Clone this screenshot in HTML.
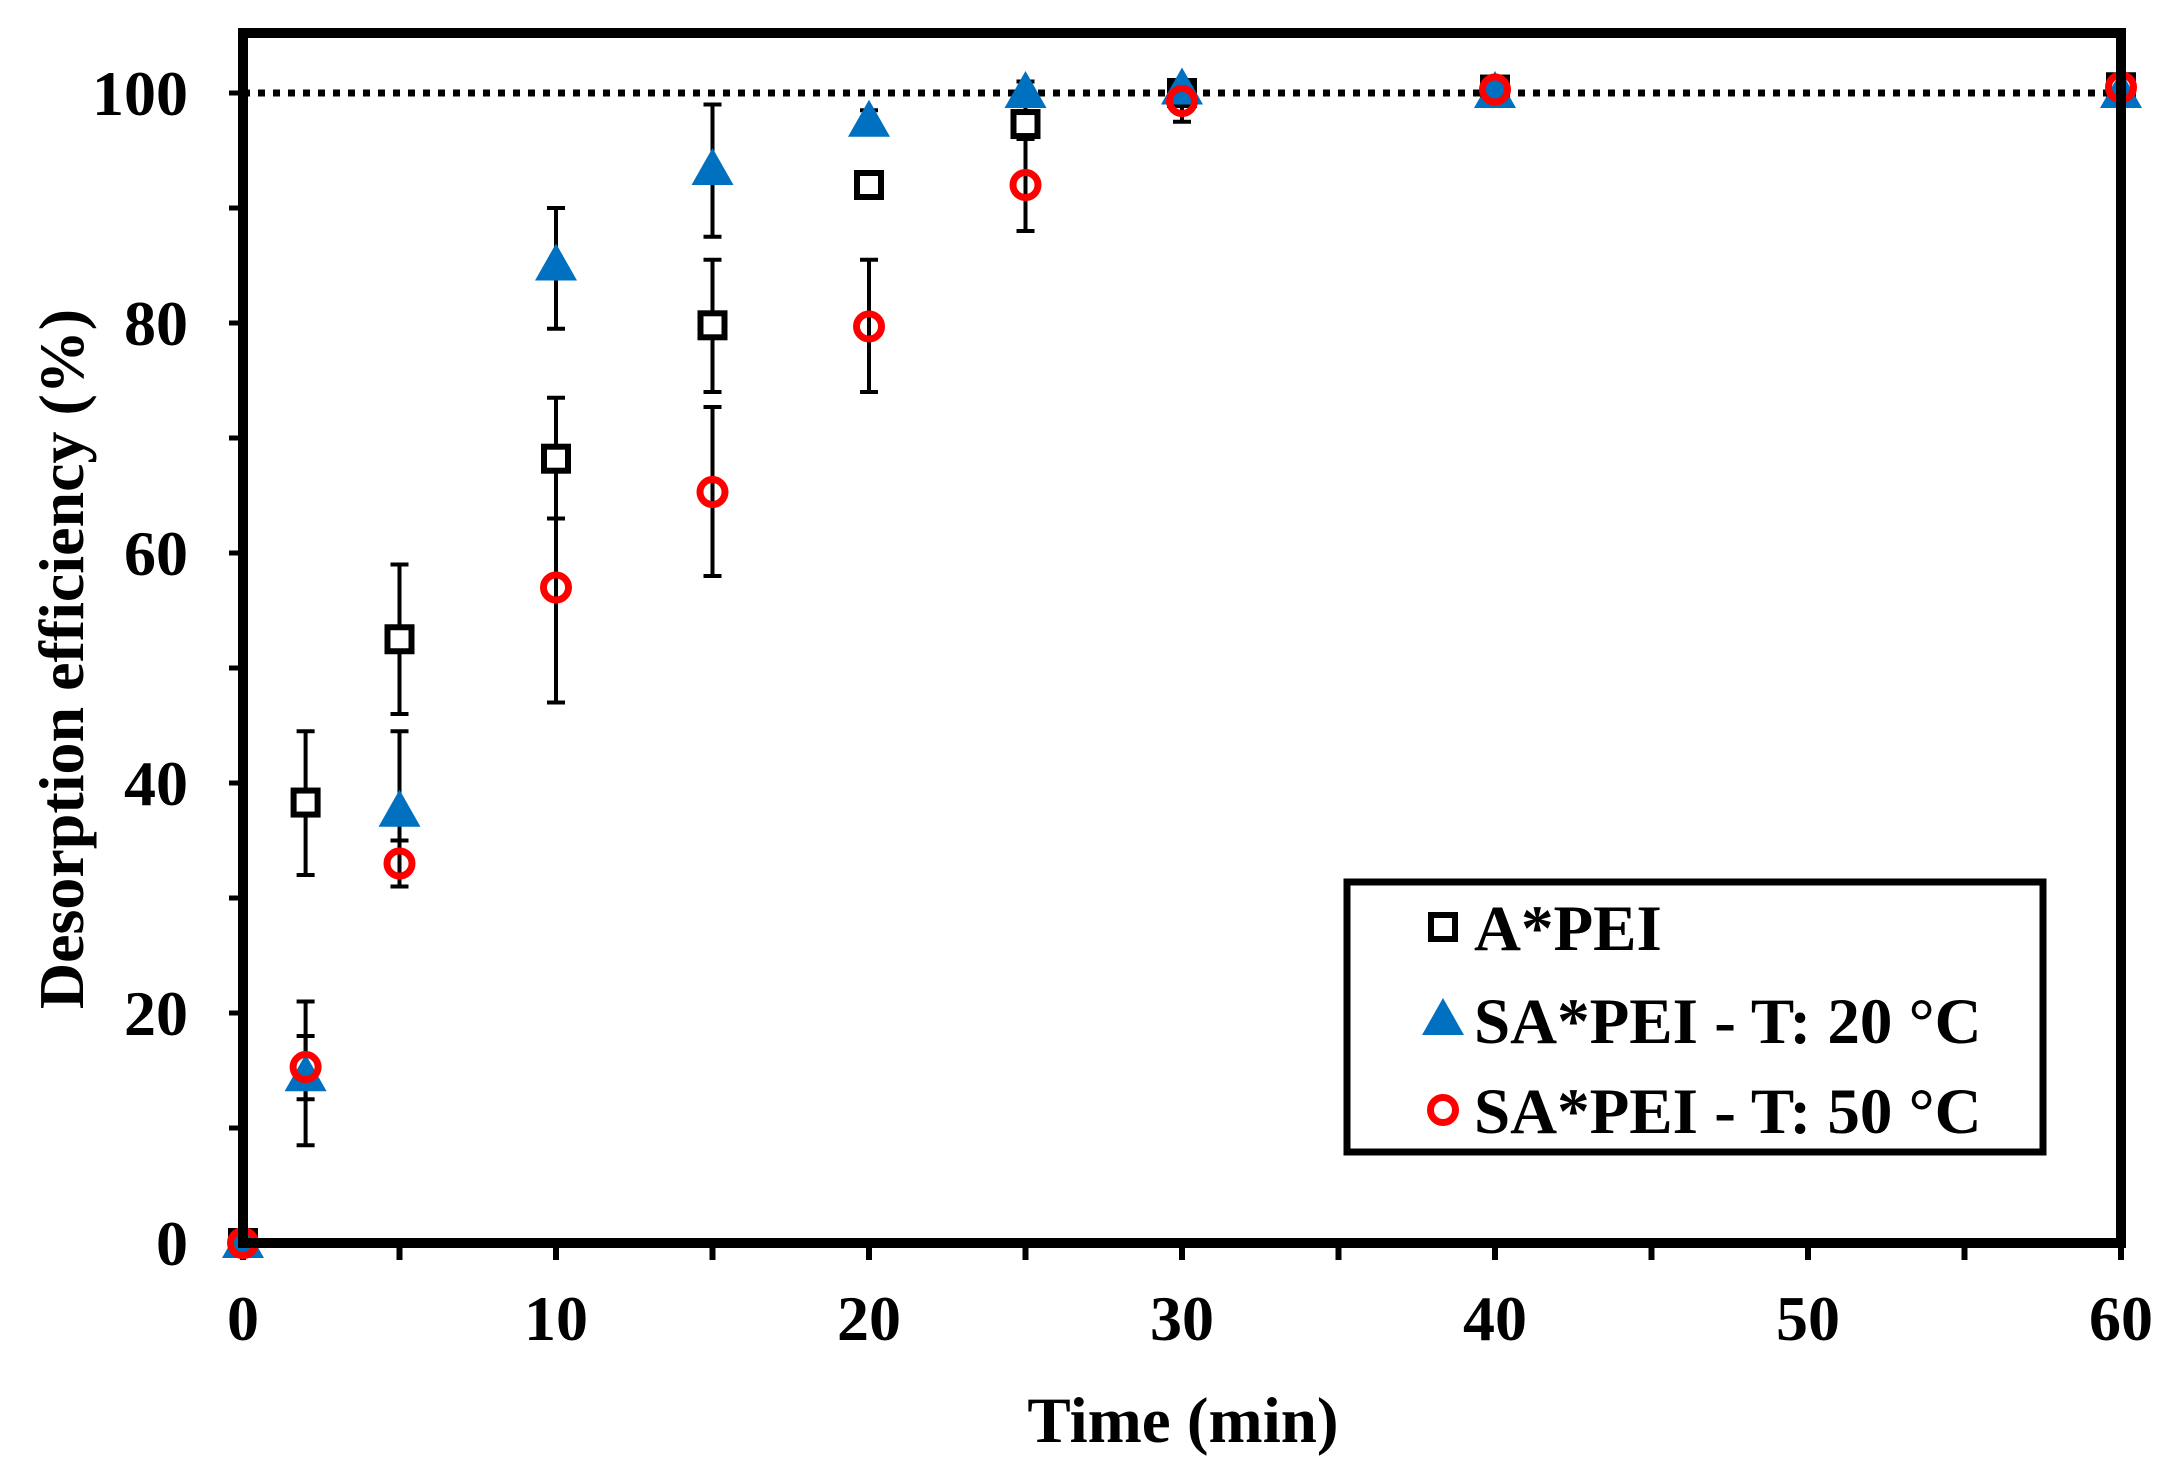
<!DOCTYPE html>
<html><head><meta charset="utf-8"><style>
html,body{margin:0;padding:0;background:#fff;}
svg{display:block;font-family:"Liberation Serif",serif;font-weight:bold;}
</style></head><body>
<svg id="s" width="2176" height="1481" viewBox="0 0 2176 1481" xmlns="http://www.w3.org/2000/svg"></svg>
<script>
const X=v=>243+v*31.3, Y=v=>1243-v*11.5;
let h='';
h+=`<line x1="243" y1="${Y(100)}" x2="2121" y2="${Y(100)}" stroke="#000" stroke-width="7" stroke-dasharray="7,8"/>`;
for(let v=0;v<=100;v+=10){h+=`<line x1="229" x2="243" y1="${Y(v)}" y2="${Y(v)}" stroke="#000" stroke-width="5"/>`;}
for(let v=0;v<=60;v+=5){h+=`<line x1="${X(v)}" x2="${X(v)}" y1="1243" y2="1260" stroke="#000" stroke-width="6"/>`;}
for(let v=0;v<=100;v+=20){h+=`<text x="188" y="${Y(v)+22}" font-size="64" text-anchor="end">${v}</text>`;}
for(let v=0;v<=60;v+=10){h+=`<text x="${X(v)}" y="1340" font-size="64" text-anchor="middle">${v}</text>`;}
h+=`<text x="1183" y="1442" font-size="65" text-anchor="middle">Time (min)</text>`;
h+=`<text transform="translate(83,659) rotate(-90)" font-size="64" text-anchor="middle">Desorption efficiency (%)</text>`;
function eb(x,lo,hi){const xx=X(x);return `<g stroke="#000" stroke-width="4"><line x1="${xx}" x2="${xx}" y1="${Y(lo)}" y2="${Y(hi)}"/><line x1="${xx-9}" x2="${xx+9}" y1="${Y(lo)}" y2="${Y(lo)}"/><line x1="${xx-9}" x2="${xx+9}" y1="${Y(hi)}" y2="${Y(hi)}"/></g>`;}
const A=[[0,0],[2,38.3,32,44.5],[5,52.5,46,59],[10,68.2,63,73.5],[15,79.8,74,85.5],[20,92],[25,97.3,93,101],[30,100,97.5,100.5],[40,100.3],[60,100.5]];
const B=[[0,0],[2,14.5,8.5,21],[5,37.5,31,44.5],[10,85,79.5,90],[15,93.3,87.5,99],[20,97.5,97,98.5],[25,100],[30,100.3],[40,100],[60,100]];
const C=[[0,0],[2,15.3,12.5,18],[5,33,31,35],[10,57,47,63],[15,65.3,58,72.7],[20,79.7,74,85.5],[25,92,88,96],[30,99.3],[40,100.3],[60,100.5]];
[A,B,C].forEach(s=>s.forEach(p=>{if(p.length>2)h+=eb(p[0],p[2],p[3]);}));
const sq=(x,y)=>`<rect x="${x-12}" y="${y-12}" width="24" height="24" fill="#fff" stroke="#000" stroke-width="6"/>`;
const tr=(x,y)=>`<polygon points="${x},${y-22} ${x-21},${y+15} ${x+21},${y+15}" fill="#0070c0"/>`;
const ci=(x,y)=>`<circle cx="${x}" cy="${y}" r="12.5" fill="none" stroke="#f00" stroke-width="7"/>`;
A.forEach(p=>h+=sq(X(p[0]),Y(p[1])));
B.forEach(p=>h+=tr(X(p[0]),Y(p[1])));
C.forEach(p=>h+=ci(X(p[0]),Y(p[1])));
h+=`<rect x="243" y="33" width="1878" height="1210" fill="none" stroke="#000" stroke-width="10"/>`;
h+=`<rect x="1347" y="882" width="696" height="270" fill="#fff" stroke="#000" stroke-width="7"/>`;
h+=sq(1443,927)+tr(1443,1020)+ci(1443,1110);
h+=`<text x="1474" y="950" font-size="65">A*PEI</text><text x="1474" y="1043" font-size="65">SA*PEI - T: 20 °C</text><text x="1474" y="1133" font-size="65">SA*PEI - T: 50 °C</text>`;
document.getElementById('s').innerHTML=h;
</script>
</body></html>
